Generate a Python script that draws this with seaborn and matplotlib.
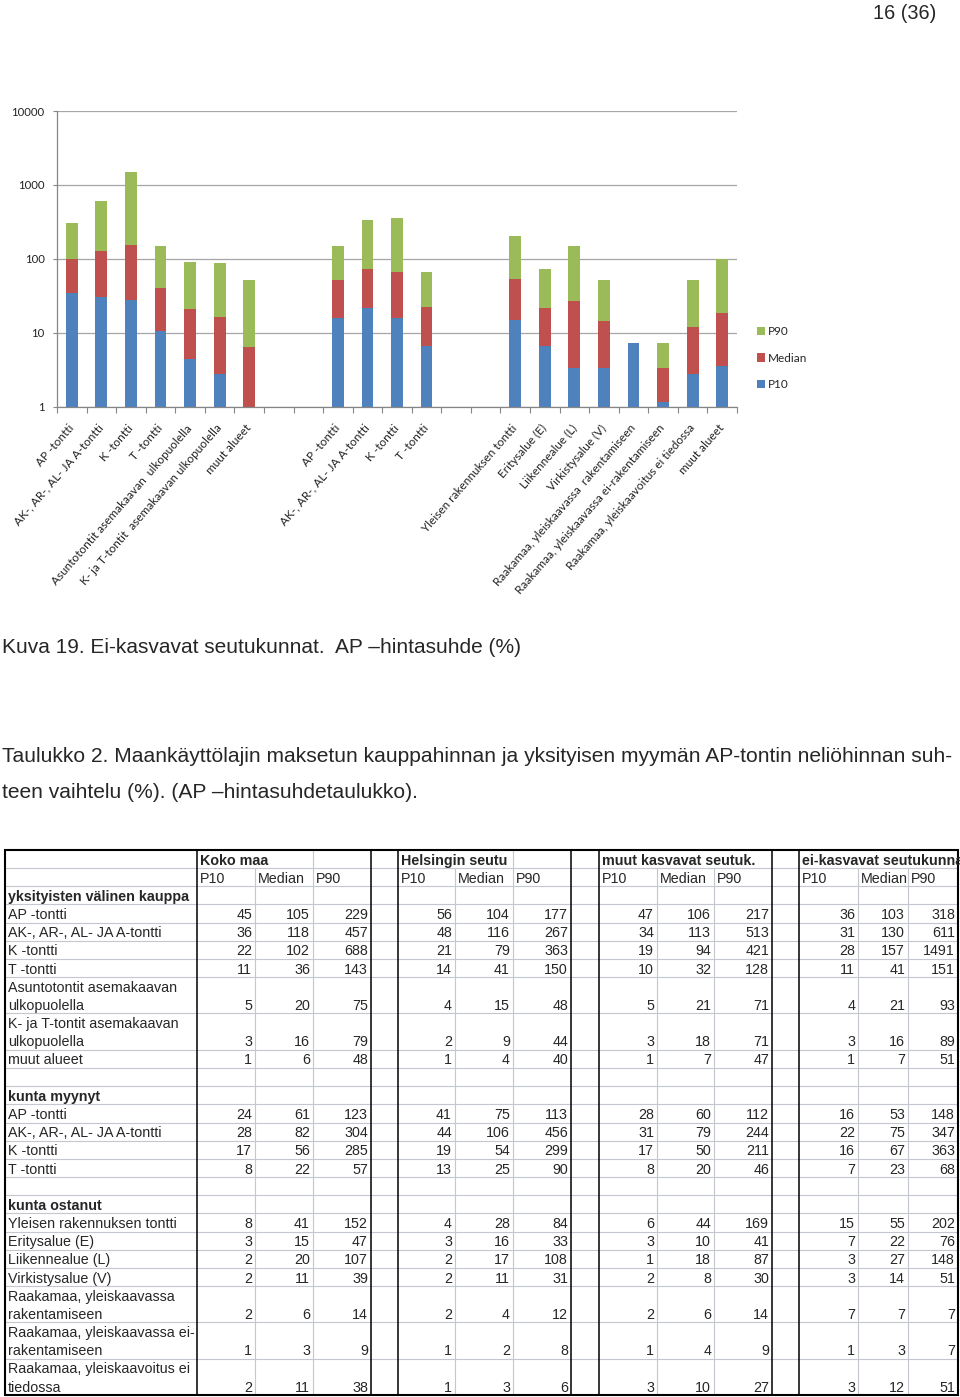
import numpy as np
import pandas as pd
import matplotlib
matplotlib.use("Agg")
import matplotlib.pyplot as plt
import seaborn as sns
from matplotlib.patches import Patch, Rectangle
from matplotlib.ticker import FixedLocator, NullLocator, FixedFormatter

# ---------------- chart data (ei-kasvavat seutukunnat) ----------------
chart_labels = [
    "AP -tontti", "AK-, AR-, AL- JA A-tontti", "K -tontti", "T -tontti",
    "Asuntotontit asemakaavan  ulkopuolella", "K- ja T-tontit  asemakaavan ulkopuolella", "muut alueet",
    "AP -tontti", "AK-, AR-, AL- JA A-tontti", "K -tontti", "T -tontti",
    "Yleisen rakennuksen tontti", "Eritysalue (E)", "Liikennealue (L)", "Virkistysalue (V)",
    "Raakamaa, yleiskaavassa  rakentamiseen", "Raakamaa, yleiskaavassa ei-rakentamiseen",
    "Raakamaa, yleiskaavoitus ei tiedossa", "muut alueet",
]
chart_group = ["yks"] * 7 + ["myy"] * 4 + ["ost"] * 8
chart_p10 = [34.7, 30.6, 27.6, 10.5, 4.45, 2.77, 1.0,
             15.8, 21.8, 15.8, 6.55,
             14.8, 6.55, 3.37, 3.37, 7.2, 1.17, 2.77, 3.6]
chart_median = [101, 127, 152, 40, 20.7, 16.3, 6.5,
                52, 74, 66.7, 22.2,
                53.7, 21.8, 26.8, 14.4, 7.2, 3.37, 12.0, 18.3]
chart_p90 = [310, 597, 1475, 147, 90, 87.6, 51,
             147, 336, 358, 66.7,
             203, 74, 147, 51, 7.2, 7.2, 51, 98]
series_names = ["P90", "Median", "P10"]
series_colors = {"P10": "#4F81BD", "Median": "#C0504D", "P90": "#9BBB59"}
y_ticks = [1, 10, 100, 1000, 10000]

# ---------------- table data ----------------
region_names = ["Koko maa", "Helsingin seutu", "muut kasvavat seutuk.", "ei-kasvavat seutukunnat"]
stat_names = ["P10", "Median", "P90"]
section_titles = ["yksityisten välinen kauppa", "kunta myynyt", "kunta ostanut"]
labels_yks = ["AP -tontti", "AK-, AR-, AL- JA A-tontti", "K -tontti", "T -tontti",
              "Asuntotontit asemakaavan\nulkopuolella", "K- ja T-tontit asemakaavan\nulkopuolella",
              "muut alueet"]
labels_myy = ["AP -tontti", "AK-, AR-, AL- JA A-tontti", "K -tontti", "T -tontti"]
labels_ost = ["Yleisen rakennuksen tontti", "Eritysalue (E)", "Liikennealue (L)",
              "Virkistysalue (V)", "Raakamaa, yleiskaavassa\nrakentamiseen",
              "Raakamaa, yleiskaavassa ei-\nrakentamiseen", "Raakamaa, yleiskaavoitus ei\ntiedossa"]
koko_maa = [[45, 105, 229], [36, 118, 457], [22, 102, 688], [11, 36, 143], [5, 20, 75],
            [3, 16, 79], [1, 6, 48],
            [24, 61, 123], [28, 82, 304], [17, 56, 285], [8, 22, 57],
            [8, 41, 152], [3, 15, 47], [2, 20, 107], [2, 11, 39], [2, 6, 14], [1, 3, 9], [2, 11, 38]]
helsinki = [[56, 104, 177], [48, 116, 267], [21, 79, 363], [14, 41, 150], [4, 15, 48],
            [2, 9, 44], [1, 4, 40],
            [41, 75, 113], [44, 106, 456], [19, 54, 299], [13, 25, 90],
            [4, 28, 84], [3, 16, 33], [2, 17, 108], [2, 11, 31], [2, 4, 12], [1, 2, 8], [1, 3, 6]]
muut_kasvavat = [[47, 106, 217], [34, 113, 513], [19, 94, 421], [10, 32, 128], [5, 21, 71],
                 [3, 18, 71], [1, 7, 47],
                 [28, 60, 112], [31, 79, 244], [17, 50, 211], [8, 20, 46],
                 [6, 44, 169], [3, 10, 41], [1, 18, 87], [2, 8, 30], [2, 6, 14], [1, 4, 9], [3, 10, 27]]
ei_kasvavat = [[36, 103, 318], [31, 130, 611], [28, 157, 1491], [11, 41, 151], [4, 21, 93],
               [3, 16, 89], [1, 7, 51],
               [16, 53, 148], [22, 75, 347], [16, 67, 363], [7, 23, 68],
               [15, 55, 202], [7, 22, 76], [3, 27, 148], [3, 14, 51], [7, 7, 7], [1, 3, 7], [3, 12, 51]]
region_values = [koko_maa, helsinki, muut_kasvavat, ei_kasvavat]

page_number = "16 (36)"
caption = "Kuva 19. Ei-kasvavat seutukunnat.  AP \u2013hintasuhde (%)"
table_title_1 = "Taulukko 2. Maankäyttölajin maksetun kauppahinnan ja yksityisen myymän AP-tontin neliöhinnan suh-"
table_title_2 = "teen vaihtelu (%). (AP \u2013hintasuhdetaulukko)."

# ---------------- figure ----------------
sns.set_theme(style="white")
plt.rcParams["font.family"] = ["Liberation Sans", "DejaVu Sans"]
CHART_FONT = ["Lato", "DejaVu Sans"]

fig = plt.figure(figsize=(9.6, 13.97), dpi=100)
bg = fig.add_axes([0, 0, 1, 1], zorder=0)
bg.set_xlim(0, 960)
bg.set_ylim(1397, 0)
bg.axis("off")

# ---- chart ----
ax = fig.add_axes([57 / 960, 1 - 406.7 / 1397, 680 / 960, 295.7 / 1397], zorder=2)
ax.set_facecolor("none")

df = pd.DataFrame({
    "key": [f"b{i}" for i in range(len(chart_labels))],
    "label": chart_labels,
    "group": chart_group,
    "P10": chart_p10,
    "Median": chart_median,
    "P90": chart_p90,
})
order, tick_labels = [], []
groups = list(dict.fromkeys(chart_group))
for gi, g in enumerate(groups):
    if gi > 0:
        for k in range(2):
            order.append(f"gap{gi}_{k}")
            tick_labels.append("")
    sub = df[df["group"] == g]
    order += list(sub["key"])
    tick_labels += list(sub["label"])

for s in series_names:
    sns.barplot(data=df, x="key", y=s, order=order, color=series_colors[s],
                saturation=1, width=0.4, errorbar=None, linewidth=0, log_scale=True, ax=ax)

ax.set_yscale("log")
ax.set_ylim(1, 10000)
ax.set_xlim(-0.5, len(order) - 0.5)
ax.set_xlabel("")
ax.set_ylabel("")
ax.yaxis.set_major_locator(FixedLocator(y_ticks))
ax.yaxis.set_minor_locator(NullLocator())
ax.yaxis.set_major_formatter(FixedFormatter([str(v) for v in y_ticks]))
ax.grid(False)
ax.yaxis.grid(True, color="#a6a6a6", linewidth=0.9)
ax.set_axisbelow(True)
for sp in ["top", "right"]:
    ax.spines[sp].set_visible(False)
for sp in ["left", "bottom"]:
    ax.spines[sp].set_color("#868686")
    ax.spines[sp].set_linewidth(0.9)
ax.tick_params(axis="y", which="major", length=3, width=0.8, color="#868686", pad=6,
               labelsize=8.2, labelcolor="#222222", left=True)
for t in ax.get_yticklabels():
    t.set_family(CHART_FONT)
ax.set_xticks(range(len(order)))
ax.set_xticklabels(tick_labels, rotation=49, ha="right", rotation_mode="anchor",
                   va="center", fontsize=8.5, family=CHART_FONT, color="#222222")
ax.tick_params(axis="x", which="major", length=0, pad=14)
ax.set_xticks(np.arange(-0.5, len(order), 1), minor=True)
ax.tick_params(axis="x", which="minor", length=4, width=0.8, color="#868686", bottom=True)

handles = [Patch(facecolor=series_colors[s], edgecolor="none") for s in series_names]
ax.legend(handles, series_names, loc="upper left", bbox_to_anchor=(757, 326),
          bbox_transform=bg.transData, frameon=False, borderpad=0, borderaxespad=0,
          handlelength=0.7, handleheight=0.7, handletextpad=0.25, labelspacing=1.33,
          prop={"family": CHART_FONT, "size": 8.5})

# ---- page texts ----
bg.text(936, 19, page_number, ha="right", va="baseline", fontsize=14.3)
bg.text(2, 653, caption, ha="left", va="baseline", fontsize=15)
bg.text(2, 762, table_title_1, ha="left", va="baseline", fontsize=15.1)
bg.text(2, 798, table_title_2, ha="left", va="baseline", fontsize=15.1)

# ---- table ----
TL, TR, TT, TB = 5, 958, 850, 1395
col_x = [5, 197, 255, 313, 371, 398, 455, 513, 571, 599, 657, 714, 772, 799, 858, 908, 958]
region_start = [1, 5, 9, 13]
FS = 10.3
thin = "#c3c7d0"

rows = [("group", None, 1, None), ("sub", None, 1, None)]
di = 0
for s, (title, labs) in enumerate(zip(section_titles, [labels_yks, labels_myy, labels_ost])):
    if s > 0:
        rows.append(("blank", None, 1, None))
    rows.append(("section", title, 1, None))
    for lab in labs:
        rows.append(("data", lab, lab.count("\n") + 1, di))
        di += 1
unit = (TB - TT) / sum(r[2] for r in rows)

clip_rect = Rectangle((TL, TT), TR - TL, TB - TT, transform=bg.transData, facecolor="none")
y = TT
for kind, text, units, idx in rows:
    y1 = y + units * unit
    base = y1 - 3.5
    if y1 < TB - 1:
        bg.plot([TL, TR], [y1, y1], color=thin, lw=0.8, zorder=1)
    if kind == "group":
        for r, name in enumerate(region_names):
            t = bg.text(col_x[region_start[r]] + 3, base, name, ha="left", va="baseline",
                        fontsize=FS, fontweight="bold", zorder=3)
            t.set_clip_path(clip_rect)
    elif kind == "sub":
        for r in range(4):
            for k, sn in enumerate(stat_names):
                bg.text(col_x[region_start[r] + k] + 3, base, sn, ha="left", va="baseline",
                        fontsize=FS, zorder=3)
    elif kind == "section":
        bg.text(TL + 3, base, text, ha="left", va="baseline", fontsize=FS,
                fontweight="bold", zorder=3)
    elif kind == "data":
        lines = text.split("\n")
        for j, ln in enumerate(lines):
            bg.text(TL + 3, base - (len(lines) - 1 - j) * unit, ln, ha="left",
                    va="baseline", fontsize=FS, zorder=3)
        for r in range(4):
            vals = region_values[r][idx]
            for k in range(3):
                bg.text(col_x[region_start[r] + k + 1] - 3, base, str(vals[k]), ha="right",
                        va="baseline", fontsize=FS, zorder=3)
    y = y1

# thin vertical lines inside regions
row1_visible = [313, 513]
for r in range(4):
    for k in (1, 2):
        xv = col_x[region_start[r] + k]
        y_start = TT if xv in row1_visible else TT + unit
        bg.plot([xv, xv], [y_start, TB], color=thin, lw=0.8, zorder=1)
# thick black vertical lines
for i in [1, 4, 5, 8, 9, 12, 13]:
    bg.plot([col_x[i], col_x[i]], [TT, TB], color="black", lw=1.1, zorder=2)
bg.add_patch(Rectangle((TL, TT), TR - TL, TB - TT, facecolor="none", edgecolor="black",
                       lw=1.5, zorder=2))

fig.savefig("out.png", dpi=100)
